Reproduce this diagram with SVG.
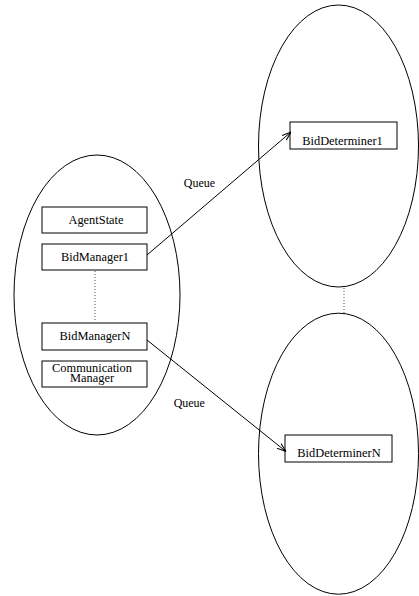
<svg xmlns="http://www.w3.org/2000/svg" width="419" height="596" viewBox="0 0 419 596" font-family="'Liberation Serif', 'Times New Roman', 'DejaVu Serif', serif">
  <style>
    .shape { fill: none; stroke: #000; stroke-width: 1; }
    .box { fill: #fff; stroke: #000; stroke-width: 1; }
    .dots { fill: none; stroke: #555; stroke-width: 1; stroke-dasharray: 1 2; }
    .label { font-family: "Liberation Serif", "Times New Roman", "DejaVu Serif", serif; font-size: 12.4px; fill: #000; text-anchor: middle; }
    .edge { fill: none; stroke: #000; stroke-width: 1; marker-end: url(#arrow); }
  </style>
  <defs>
    <marker id="arrow" viewBox="0 0 10 10" refX="10" refY="5" markerWidth="9" markerHeight="9" markerUnits="userSpaceOnUse" orient="auto">
      <path d="M0,1.5 L10,5 L0,8.5" fill="none" stroke="#000" stroke-width="1.2"/>
    </marker>
  </defs>
  <rect width="419" height="596" fill="#fff"/>

  <!-- agent container -->
  <g id="agent">
    <ellipse class="shape" cx="97" cy="295" rx="83" ry="140"/>
    <line class="dots" x1="95" y1="271" x2="95" y2="322"/>
  </g>
  <g id="agentState">
    <rect class="box" x="42" y="207" width="105" height="26"/>
    <text class="label" x="96" y="223.5">AgentState</text>
  </g>
  <g id="bidManager1">
    <rect class="box" x="42" y="244" width="105" height="26"/>
    <text class="label" x="95" y="261">BidManager1</text>
  </g>
  <g id="bidManagerN">
    <rect class="box" x="42" y="323" width="105" height="27"/>
    <text class="label" x="95" y="339.5">BidManagerN</text>
  </g>
  <g id="communicationManager">
    <rect class="box" x="42" y="361" width="105" height="26"/>
    <text class="label" x="92" y="371.5">Communication</text>
    <text class="label" x="92" y="382">Manager</text>
  </g>

  <!-- bid determiner containers -->
  <g id="determinerSpace1">
    <ellipse class="shape" cx="338.5" cy="146" rx="80" ry="141"/>
  </g>
  <g id="bidDeterminer1">
    <rect class="box" x="290" y="122" width="107" height="27"/>
    <text class="label" x="342.5" y="145">BidDeterminer1</text>
  </g>
  <g id="determinerSpaceN">
    <ellipse class="shape" cx="338.5" cy="453.7" rx="80" ry="140.5"/>
  </g>
  <g id="bidDeterminerN">
    <rect class="box" x="285" y="435" width="107" height="27"/>
    <text class="label" x="339" y="456.7">BidDeterminerN</text>
  </g>

  <!-- connectors -->
  <g id="connectors">
    <line class="dots" x1="344" y1="288" x2="344" y2="313"/>
    <line class="edge" x1="147" y1="255" x2="291" y2="132"/>
    <line class="edge" x1="147" y1="340" x2="286" y2="451.5"/>
    <text class="label" x="199.5" y="186.5" style="font-size:12px">Queue</text>
    <text class="label" x="189.3" y="407" style="font-size:12px">Queue</text>
  </g>
</svg>
